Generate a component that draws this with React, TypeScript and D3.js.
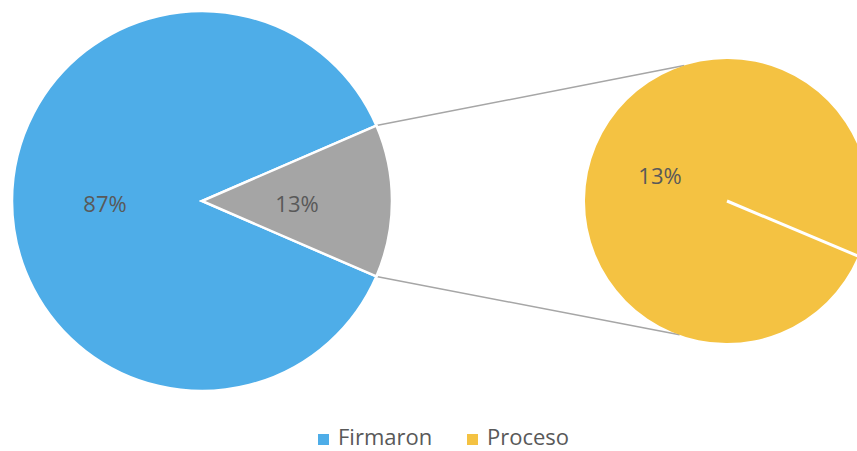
import React from "react";
import * as d3 from "d3";

const mainCategories = ["Firmaron", "Proceso"];
const mainValues = [87, 13];
const mainLabels = ["87%", "13%"];
const secondaryCategories = ["Proceso"];
const secondaryValues = [13];
const secondaryLabels = ["13%"];
const legendItems = ["Firmaron", "Proceso"];

const COLORS: Record<string, string> = {
  Firmaron: "#4EADE8",
  Proceso: "#F4C242",
  Other: "#A5A5A5",
};

const W = 857;
const H = 451;

export default function App() {
  const mainC = { x: 202, y: 201 };
  const mainR = 190;
  const secC = { x: 727, y: 201 };
  const secR = 142;
  const deg = Math.PI / 180;

  const total = d3.sum(mainValues);
  const otherSpan = (mainValues[1] / total) * 2 * Math.PI;
  const otherStart = Math.PI / 2 - otherSpan / 2;
  const otherEnd = Math.PI / 2 + otherSpan / 2;

  const pie = d3
    .pie<number>()
    .sort(null)
    .startAngle(otherEnd)
    .endAngle(otherEnd + 2 * Math.PI);
  const arcs = pie(mainValues);
  const arcGen = d3.arc<any>().innerRadius(0).outerRadius(mainR);

  const labelPos = [
    { x: 105, y: 212 },
    { x: 297, y: 212 },
  ];

  const secStart = 112.8 * deg;
  const secPie = d3
    .pie<number>()
    .sort(null)
    .startAngle(secStart)
    .endAngle(secStart + 2 * Math.PI);
  const secArcs = secPie(secondaryValues);
  const secArcGen = d3.arc<any>().innerRadius(0).outerRadius(secR);

  const pt = (c: { x: number; y: number }, r: number, a: number) => ({
    x: c.x + r * Math.sin(a),
    y: c.y - r * Math.cos(a),
  });

  const wTop = pt(mainC, mainR, otherStart);
  const wBot = pt(mainC, mainR, otherEnd);
  const sTop = pt(secC, secR, -17.5 * deg);
  const sBot = pt(secC, secR, 199.5 * deg);

  const font = "'Open Sans', 'Liberation Sans', sans-serif";
  const textColor = "#595959";

  return (
    <svg width={W} height={H} style={{ position: "absolute", left: 0, top: 0 }}>
      <rect width={W} height={H} fill="#fff" />
      <line x1={wTop.x} y1={wTop.y} x2={sTop.x} y2={sTop.y} stroke="#A6A6A6" strokeWidth={1.5} />
      <line x1={wBot.x} y1={wBot.y} x2={sBot.x} y2={sBot.y} stroke="#A6A6A6" strokeWidth={1.5} />
      <g transform={`translate(${mainC.x},${mainC.y})`}>
        {arcs.map((a, i) => (
          <path
            key={i}
            d={arcGen(a) as string}
            fill={i === 0 ? COLORS[mainCategories[0]] : COLORS.Other}
            stroke="#fff"
            strokeWidth={2.5}
            strokeLinejoin="miter"
          />
        ))}
      </g>
      <g transform={`translate(${secC.x},${secC.y})`}>
        {secArcs.map((a, i) => (
          <path key={i} d={secArcGen(a) as string} fill={COLORS[secondaryCategories[i]]} />
        ))}
        <line
          x1={0}
          y1={0}
          x2={(secR + 2) * Math.sin(secStart)}
          y2={-(secR + 2) * Math.cos(secStart)}
          stroke="#fff"
          strokeWidth={3}
        />
      </g>
      {mainLabels.map((l, i) => (
        <text
          key={i}
          x={labelPos[i].x}
          y={labelPos[i].y}
          textAnchor="middle"
          fontFamily={font}
          fontSize={22}
          fill={textColor}
        >
          {l}
        </text>
      ))}
      {secondaryLabels.map((l, i) => (
        <text
          key={i}
          x={660}
          y={184}
          textAnchor="middle"
          fontFamily={font}
          fontSize={22}
          fill={textColor}
        >
          {l}
        </text>
      ))}
      {legendItems.map((item, i) => {
        const x = i === 0 ? 318 : 467;
        return (
          <g key={item}>
            <rect x={x} y={434} width={11} height={11} fill={COLORS[item]} />
            <text x={x + 20} y={445} fontFamily={font} fontSize={22} fill={textColor}>
              {item}
            </text>
          </g>
        );
      })}
    </svg>
  );
}
